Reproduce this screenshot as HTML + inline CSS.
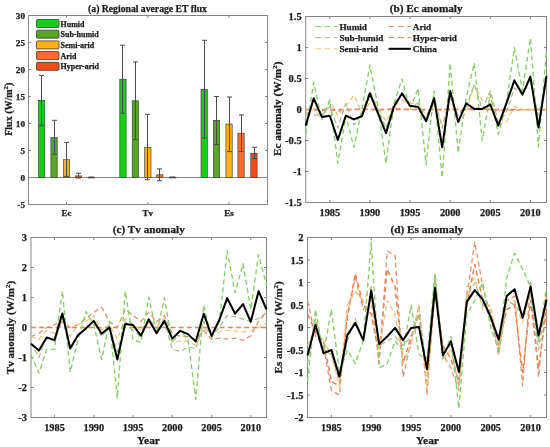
<!DOCTYPE html>
<html><head><meta charset="utf-8"><style>
html,body{margin:0;padding:0;background:#fff;}
body{width:550px;height:447px;overflow:hidden;}
svg{display:block;will-change:transform;}
text{font-family:"Liberation Serif", serif;font-weight:bold;fill:#1a1a1a;stroke:#1a1a1a;stroke-width:0.25px;}
</style></head><body>
<svg width="550" height="447" viewBox="0 0 550 447">
<rect x="0" y="0" width="550" height="447" fill="#fff"/>
<rect x="28.5" y="15.5" width="239.0" height="189.0" fill="none" stroke="#858585" stroke-width="1"/>
<line x1="28.5" y1="204.5" x2="31.0" y2="204.5" stroke="#858585" stroke-width="1"/>
<line x1="267.5" y1="204.5" x2="265.0" y2="204.5" stroke="#858585" stroke-width="1"/>
<text x="25.0" y="208.1" font-size="9.2" text-anchor="end" >-5</text>
<line x1="28.5" y1="177.5" x2="31.0" y2="177.5" stroke="#858585" stroke-width="1"/>
<line x1="267.5" y1="177.5" x2="265.0" y2="177.5" stroke="#858585" stroke-width="1"/>
<text x="25.0" y="181.1" font-size="9.2" text-anchor="end" >0</text>
<line x1="28.5" y1="150.5" x2="31.0" y2="150.5" stroke="#858585" stroke-width="1"/>
<line x1="267.5" y1="150.5" x2="265.0" y2="150.5" stroke="#858585" stroke-width="1"/>
<text x="25.0" y="154.1" font-size="9.2" text-anchor="end" >5</text>
<line x1="28.5" y1="123.5" x2="31.0" y2="123.5" stroke="#858585" stroke-width="1"/>
<line x1="267.5" y1="123.5" x2="265.0" y2="123.5" stroke="#858585" stroke-width="1"/>
<text x="25.0" y="127.1" font-size="9.2" text-anchor="end" >10</text>
<line x1="28.5" y1="96.5" x2="31.0" y2="96.5" stroke="#858585" stroke-width="1"/>
<line x1="267.5" y1="96.5" x2="265.0" y2="96.5" stroke="#858585" stroke-width="1"/>
<text x="25.0" y="100.1" font-size="9.2" text-anchor="end" >15</text>
<line x1="28.5" y1="69.5" x2="31.0" y2="69.5" stroke="#858585" stroke-width="1"/>
<line x1="267.5" y1="69.5" x2="265.0" y2="69.5" stroke="#858585" stroke-width="1"/>
<text x="25.0" y="73.1" font-size="9.2" text-anchor="end" >20</text>
<line x1="28.5" y1="42.5" x2="31.0" y2="42.5" stroke="#858585" stroke-width="1"/>
<line x1="267.5" y1="42.5" x2="265.0" y2="42.5" stroke="#858585" stroke-width="1"/>
<text x="25.0" y="46.1" font-size="9.2" text-anchor="end" >25</text>
<line x1="28.5" y1="15.5" x2="31.0" y2="15.5" stroke="#858585" stroke-width="1"/>
<line x1="267.5" y1="15.5" x2="265.0" y2="15.5" stroke="#858585" stroke-width="1"/>
<text x="25.0" y="19.1" font-size="9.2" text-anchor="end" >30</text>
<line x1="28.5" y1="177.5" x2="267.5" y2="177.5" stroke="#858585" stroke-width="1"/>
<line x1="66.6" y1="204.5" x2="66.6" y2="202.0" stroke="#858585" stroke-width="1"/>
<line x1="66.6" y1="15.5" x2="66.6" y2="18.0" stroke="#858585" stroke-width="1"/>
<text x="66.6" y="216.2" font-size="9" text-anchor="middle" >Ec</text>
<line x1="147.8" y1="204.5" x2="147.8" y2="202.0" stroke="#858585" stroke-width="1"/>
<line x1="147.8" y1="15.5" x2="147.8" y2="18.0" stroke="#858585" stroke-width="1"/>
<text x="147.8" y="216.2" font-size="9" text-anchor="middle" >Tv</text>
<line x1="229.1" y1="204.5" x2="229.1" y2="202.0" stroke="#858585" stroke-width="1"/>
<line x1="229.1" y1="15.5" x2="229.1" y2="18.0" stroke="#858585" stroke-width="1"/>
<text x="229.1" y="216.2" font-size="9" text-anchor="middle" >Es</text>
<rect x="38.5" y="100.3" width="6.3" height="77.2" fill="#18cc18" stroke="#333" stroke-width="0.6"/>
<line x1="41.5" y1="75.4" x2="41.5" y2="125.7" stroke="#4a4a4a" stroke-width="1"/>
<line x1="39.0" y1="75.4" x2="44.0" y2="75.4" stroke="#4a4a4a" stroke-width="1"/>
<line x1="39.0" y1="125.7" x2="44.0" y2="125.7" stroke="#4a4a4a" stroke-width="1"/>
<rect x="50.9" y="137.5" width="6.3" height="40.0" fill="#58a52a" stroke="#333" stroke-width="0.6"/>
<line x1="54.5" y1="120.3" x2="54.5" y2="154.3" stroke="#4a4a4a" stroke-width="1"/>
<line x1="52.0" y1="120.3" x2="57.0" y2="120.3" stroke="#4a4a4a" stroke-width="1"/>
<line x1="52.0" y1="154.3" x2="57.0" y2="154.3" stroke="#4a4a4a" stroke-width="1"/>
<rect x="63.4" y="159.7" width="6.3" height="17.8" fill="#ffaf18" stroke="#333" stroke-width="0.6"/>
<line x1="66.5" y1="142.4" x2="66.5" y2="176.4" stroke="#4a4a4a" stroke-width="1"/>
<line x1="64.0" y1="142.4" x2="69.0" y2="142.4" stroke="#4a4a4a" stroke-width="1"/>
<line x1="64.0" y1="176.4" x2="69.0" y2="176.4" stroke="#4a4a4a" stroke-width="1"/>
<rect x="75.4" y="175.9" width="6.3" height="1.6" fill="#ff6d2d" stroke="#333" stroke-width="0.6"/>
<line x1="78.5" y1="173.2" x2="78.5" y2="178.0" stroke="#4a4a4a" stroke-width="1"/>
<line x1="76.0" y1="173.2" x2="81.0" y2="173.2" stroke="#4a4a4a" stroke-width="1"/>
<line x1="76.0" y1="178.0" x2="81.0" y2="178.0" stroke="#4a4a4a" stroke-width="1"/>
<rect x="88.3" y="177.2" width="6.3" height="0.8" fill="#f24a18" stroke="#333" stroke-width="0.6"/>
<line x1="91.5" y1="177.0" x2="91.5" y2="177.5" stroke="#4a4a4a" stroke-width="1"/>
<line x1="89.0" y1="177.0" x2="94.0" y2="177.0" stroke="#4a4a4a" stroke-width="1"/>
<line x1="89.0" y1="177.5" x2="94.0" y2="177.5" stroke="#4a4a4a" stroke-width="1"/>
<rect x="119.8" y="79.2" width="6.3" height="98.3" fill="#18cc18" stroke="#333" stroke-width="0.6"/>
<line x1="122.5" y1="45.2" x2="122.5" y2="113.2" stroke="#4a4a4a" stroke-width="1"/>
<line x1="120.0" y1="45.2" x2="125.0" y2="45.2" stroke="#4a4a4a" stroke-width="1"/>
<line x1="120.0" y1="113.2" x2="125.0" y2="113.2" stroke="#4a4a4a" stroke-width="1"/>
<rect x="132.2" y="100.8" width="6.3" height="76.7" fill="#58a52a" stroke="#333" stroke-width="0.6"/>
<line x1="135.5" y1="61.9" x2="135.5" y2="139.7" stroke="#4a4a4a" stroke-width="1"/>
<line x1="133.0" y1="61.9" x2="138.0" y2="61.9" stroke="#4a4a4a" stroke-width="1"/>
<line x1="133.0" y1="139.7" x2="138.0" y2="139.7" stroke="#4a4a4a" stroke-width="1"/>
<rect x="144.7" y="147.3" width="6.3" height="30.2" fill="#ffaf18" stroke="#333" stroke-width="0.6"/>
<line x1="147.5" y1="114.3" x2="147.5" y2="179.7" stroke="#4a4a4a" stroke-width="1"/>
<line x1="145.0" y1="114.3" x2="150.0" y2="114.3" stroke="#4a4a4a" stroke-width="1"/>
<line x1="145.0" y1="179.7" x2="150.0" y2="179.7" stroke="#4a4a4a" stroke-width="1"/>
<rect x="156.7" y="174.8" width="6.3" height="2.7" fill="#ff6d2d" stroke="#333" stroke-width="0.6"/>
<line x1="159.5" y1="168.9" x2="159.5" y2="180.7" stroke="#4a4a4a" stroke-width="1"/>
<line x1="157.0" y1="168.9" x2="162.0" y2="168.9" stroke="#4a4a4a" stroke-width="1"/>
<line x1="157.0" y1="180.7" x2="162.0" y2="180.7" stroke="#4a4a4a" stroke-width="1"/>
<rect x="169.6" y="177.2" width="6.3" height="0.8" fill="#f24a18" stroke="#333" stroke-width="0.6"/>
<line x1="172.5" y1="177.0" x2="172.5" y2="177.5" stroke="#4a4a4a" stroke-width="1"/>
<line x1="170.0" y1="177.0" x2="175.0" y2="177.0" stroke="#4a4a4a" stroke-width="1"/>
<line x1="170.0" y1="177.5" x2="175.0" y2="177.5" stroke="#4a4a4a" stroke-width="1"/>
<rect x="201.0" y="89.5" width="6.3" height="88.0" fill="#18cc18" stroke="#333" stroke-width="0.6"/>
<line x1="204.5" y1="40.3" x2="204.5" y2="138.1" stroke="#4a4a4a" stroke-width="1"/>
<line x1="202.0" y1="40.3" x2="207.0" y2="40.3" stroke="#4a4a4a" stroke-width="1"/>
<line x1="202.0" y1="138.1" x2="207.0" y2="138.1" stroke="#4a4a4a" stroke-width="1"/>
<rect x="213.4" y="120.3" width="6.3" height="57.2" fill="#58a52a" stroke="#333" stroke-width="0.6"/>
<line x1="216.5" y1="96.5" x2="216.5" y2="144.6" stroke="#4a4a4a" stroke-width="1"/>
<line x1="214.0" y1="96.5" x2="219.0" y2="96.5" stroke="#4a4a4a" stroke-width="1"/>
<line x1="214.0" y1="144.6" x2="219.0" y2="144.6" stroke="#4a4a4a" stroke-width="1"/>
<rect x="225.9" y="124.0" width="6.3" height="53.5" fill="#ffaf18" stroke="#333" stroke-width="0.6"/>
<line x1="229.5" y1="97.0" x2="229.5" y2="151.6" stroke="#4a4a4a" stroke-width="1"/>
<line x1="227.0" y1="97.0" x2="232.0" y2="97.0" stroke="#4a4a4a" stroke-width="1"/>
<line x1="227.0" y1="151.6" x2="232.0" y2="151.6" stroke="#4a4a4a" stroke-width="1"/>
<rect x="237.9" y="133.2" width="6.3" height="44.3" fill="#ff6d2d" stroke="#333" stroke-width="0.6"/>
<line x1="241.5" y1="114.9" x2="241.5" y2="151.6" stroke="#4a4a4a" stroke-width="1"/>
<line x1="239.0" y1="114.9" x2="244.0" y2="114.9" stroke="#4a4a4a" stroke-width="1"/>
<line x1="239.0" y1="151.6" x2="244.0" y2="151.6" stroke="#4a4a4a" stroke-width="1"/>
<rect x="250.8" y="153.2" width="6.3" height="24.3" fill="#f24a18" stroke="#333" stroke-width="0.6"/>
<line x1="254.5" y1="147.3" x2="254.5" y2="158.6" stroke="#4a4a4a" stroke-width="1"/>
<line x1="252.0" y1="147.3" x2="257.0" y2="147.3" stroke="#4a4a4a" stroke-width="1"/>
<line x1="252.0" y1="158.6" x2="257.0" y2="158.6" stroke="#4a4a4a" stroke-width="1"/>
<rect x="36.5" y="19.5" width="22.5" height="8" rx="1" fill="#18cc18" stroke="#3a3a3a" stroke-width="0.8"/>
<text x="60.5" y="26.5" font-size="8" text-anchor="start" >Humid</text>
<rect x="36.5" y="30.2" width="22.5" height="8" rx="1" fill="#58a52a" stroke="#3a3a3a" stroke-width="0.8"/>
<text x="60.5" y="37.2" font-size="8" text-anchor="start" >Sub-humid</text>
<rect x="36.5" y="40.9" width="22.5" height="8" rx="1" fill="#ffaf18" stroke="#3a3a3a" stroke-width="0.8"/>
<text x="60.5" y="47.9" font-size="8" text-anchor="start" >Semi-arid</text>
<rect x="36.5" y="51.6" width="22.5" height="8" rx="1" fill="#ff6d2d" stroke="#3a3a3a" stroke-width="0.8"/>
<text x="60.5" y="58.6" font-size="8" text-anchor="start" >Arid</text>
<rect x="36.5" y="62.3" width="22.5" height="8" rx="1" fill="#f24a18" stroke="#3a3a3a" stroke-width="0.8"/>
<text x="60.5" y="69.3" font-size="8" text-anchor="start" >Hyper-arid</text>
<text x="147.5" y="11.7" font-size="9.7" text-anchor="middle" >(a) Regional average ET flux</text>
<text transform="translate(12.3,109.2) rotate(-90)" font-size="10" text-anchor="middle">Flux (W/m<tspan font-size="7" dy="-4">2</tspan><tspan dy="4">)</tspan></text>
<rect x="305.7" y="16.5" width="240.8" height="186.0" fill="none" stroke="#858585" stroke-width="1"/>
<line x1="305.7" y1="202.5" x2="308.2" y2="202.5" stroke="#858585" stroke-width="1"/>
<line x1="546.5" y1="202.5" x2="544.0" y2="202.5" stroke="#858585" stroke-width="1"/>
<text x="301.7" y="206.1" font-size="10.5" text-anchor="end" >-1.5</text>
<line x1="305.7" y1="171.5" x2="308.2" y2="171.5" stroke="#858585" stroke-width="1"/>
<line x1="546.5" y1="171.5" x2="544.0" y2="171.5" stroke="#858585" stroke-width="1"/>
<text x="301.7" y="175.1" font-size="10.5" text-anchor="end" >-1</text>
<line x1="305.7" y1="140.5" x2="308.2" y2="140.5" stroke="#858585" stroke-width="1"/>
<line x1="546.5" y1="140.5" x2="544.0" y2="140.5" stroke="#858585" stroke-width="1"/>
<text x="301.7" y="144.1" font-size="10.5" text-anchor="end" >-0.5</text>
<line x1="305.7" y1="109.5" x2="308.2" y2="109.5" stroke="#858585" stroke-width="1"/>
<line x1="546.5" y1="109.5" x2="544.0" y2="109.5" stroke="#858585" stroke-width="1"/>
<text x="301.7" y="113.1" font-size="10.5" text-anchor="end" >0</text>
<line x1="305.7" y1="78.5" x2="308.2" y2="78.5" stroke="#858585" stroke-width="1"/>
<line x1="546.5" y1="78.5" x2="544.0" y2="78.5" stroke="#858585" stroke-width="1"/>
<text x="301.7" y="82.1" font-size="10.5" text-anchor="end" >0.5</text>
<line x1="305.7" y1="47.5" x2="308.2" y2="47.5" stroke="#858585" stroke-width="1"/>
<line x1="546.5" y1="47.5" x2="544.0" y2="47.5" stroke="#858585" stroke-width="1"/>
<text x="301.7" y="51.1" font-size="10.5" text-anchor="end" >1</text>
<line x1="305.7" y1="16.5" x2="308.2" y2="16.5" stroke="#858585" stroke-width="1"/>
<line x1="546.5" y1="16.5" x2="544.0" y2="16.5" stroke="#858585" stroke-width="1"/>
<text x="301.7" y="20.1" font-size="10.5" text-anchor="end" >1.5</text>
<line x1="329.8" y1="202.5" x2="329.8" y2="200.0" stroke="#858585" stroke-width="1"/>
<line x1="329.8" y1="16.5" x2="329.8" y2="19.0" stroke="#858585" stroke-width="1"/>
<text x="329.8" y="216.1" font-size="10.3" text-anchor="middle" >1985</text>
<line x1="369.9" y1="202.5" x2="369.9" y2="200.0" stroke="#858585" stroke-width="1"/>
<line x1="369.9" y1="16.5" x2="369.9" y2="19.0" stroke="#858585" stroke-width="1"/>
<text x="369.9" y="216.1" font-size="10.3" text-anchor="middle" >1990</text>
<line x1="410.0" y1="202.5" x2="410.0" y2="200.0" stroke="#858585" stroke-width="1"/>
<line x1="410.0" y1="16.5" x2="410.0" y2="19.0" stroke="#858585" stroke-width="1"/>
<text x="410.0" y="216.1" font-size="10.3" text-anchor="middle" >1995</text>
<line x1="450.2" y1="202.5" x2="450.2" y2="200.0" stroke="#858585" stroke-width="1"/>
<line x1="450.2" y1="16.5" x2="450.2" y2="19.0" stroke="#858585" stroke-width="1"/>
<text x="450.2" y="216.1" font-size="10.3" text-anchor="middle" >2000</text>
<line x1="490.3" y1="202.5" x2="490.3" y2="200.0" stroke="#858585" stroke-width="1"/>
<line x1="490.3" y1="16.5" x2="490.3" y2="19.0" stroke="#858585" stroke-width="1"/>
<text x="490.3" y="216.1" font-size="10.3" text-anchor="middle" >2005</text>
<line x1="530.4" y1="202.5" x2="530.4" y2="200.0" stroke="#858585" stroke-width="1"/>
<line x1="530.4" y1="16.5" x2="530.4" y2="19.0" stroke="#858585" stroke-width="1"/>
<text x="530.4" y="216.1" font-size="10.3" text-anchor="middle" >2010</text>
<polyline points="305.7,109.5 313.7,109.5 321.8,109.5 329.8,109.5 337.8,109.5 345.8,109.5 353.9,109.5 361.9,109.5 369.9,109.5 377.9,109.5 386.0,109.5 394.0,109.5 402.0,109.5 410.0,109.5 418.1,109.5 426.1,109.5 434.1,109.5 442.2,109.5 450.2,109.5 458.2,109.5 466.2,109.5 474.3,109.5 482.3,109.5 490.3,109.5 498.3,109.5 506.4,109.5 514.4,109.5 522.4,109.5 530.4,109.5 538.5,109.5 546.5,109.5" fill="none" stroke="#e8804f" stroke-width="1.5" stroke-dasharray="5,3.2" stroke-opacity="1.0" stroke-linejoin="round"/>
<polyline points="305.7,109.5 313.7,110.1 321.8,110.7 329.8,109.5 337.8,111.4 345.8,110.1 353.9,109.5 361.9,108.9 369.9,109.5 377.9,110.1 386.0,109.5 394.0,108.3 402.0,108.9 410.0,109.5 418.1,109.5 426.1,110.7 434.1,109.5 442.2,110.1 450.2,108.3 458.2,111.4 466.2,109.5 474.3,107.6 482.3,108.9 490.3,109.5 498.3,110.7 506.4,109.5 514.4,110.7 522.4,109.5 530.4,109.5 538.5,110.7 546.5,109.5" fill="none" stroke="#e2906c" stroke-width="1.25" stroke-dasharray="5,3.2" stroke-opacity="1.0" stroke-linejoin="round"/>
<polyline points="305.7,115.7 313.7,108.3 321.8,118.8 329.8,100.2 337.8,115.7 345.8,106.4 353.9,95.2 361.9,112.6 369.9,103.3 377.9,106.4 386.0,121.9 394.0,106.4 402.0,100.2 410.0,103.3 418.1,103.3 426.1,115.7 434.1,103.3 442.2,125.0 450.2,97.1 458.2,121.9 466.2,112.6 474.3,84.7 482.3,100.2 490.3,97.1 498.3,125.0 506.4,121.9 514.4,106.4 522.4,109.5 530.4,109.5 538.5,109.5 546.5,109.5" fill="none" stroke="#eec47a" stroke-width="1.25" stroke-dasharray="5,3.2" stroke-opacity="1.0" stroke-linejoin="round"/>
<polyline points="305.7,112.6 313.7,115.1 321.8,115.1 329.8,106.4 337.8,128.1 345.8,103.3 353.9,125.0 361.9,112.6 369.9,90.9 377.9,109.5 386.0,128.1 394.0,103.3 402.0,94.0 410.0,106.4 418.1,103.3 426.1,118.8 434.1,97.1 442.2,128.1 450.2,97.1 458.2,115.7 466.2,106.4 474.3,84.7 482.3,109.5 490.3,90.9 498.3,121.9 506.4,112.6 514.4,87.8 522.4,94.0 530.4,81.6 538.5,115.7 546.5,81.6" fill="none" stroke="#a9b98a" stroke-width="1.25" stroke-dasharray="5,3.2" stroke-opacity="1.0" stroke-linejoin="round"/>
<polyline points="305.7,134.3 313.7,82.2 321.8,119.4 329.8,100.2 337.8,163.4 345.8,115.7 353.9,147.3 361.9,109.5 369.9,64.9 377.9,106.4 386.0,163.4 394.0,103.3 402.0,79.1 410.0,109.5 418.1,88.4 426.1,164.7 434.1,90.9 442.2,177.7 450.2,63.0 458.2,152.9 466.2,97.1 474.3,63.0 482.3,140.5 490.3,94.0 498.3,134.3 506.4,103.3 514.4,47.5 522.4,90.9 530.4,38.2 538.5,146.7 546.5,50.6" fill="none" stroke="#86cf68" stroke-width="1.35" stroke-dasharray="5,3.2" stroke-opacity="1.0" stroke-linejoin="round"/>
<polyline points="305.7,125.6 313.7,98.3 321.8,116.9 329.8,115.7 337.8,139.9 345.8,115.7 353.9,119.4 361.9,116.3 369.9,93.4 377.9,113.2 386.0,133.1 394.0,106.4 402.0,93.4 410.0,105.8 418.1,107.0 426.1,121.3 434.1,98.3 442.2,147.3 450.2,90.9 458.2,121.9 466.2,103.3 474.3,108.9 482.3,108.9 490.3,104.5 498.3,125.6 506.4,103.3 514.4,80.4 522.4,94.6 530.4,76.6 538.5,127.5 546.5,76.0" fill="none" stroke="#000" stroke-width="2.0" stroke-opacity="1.0" stroke-linejoin="round"/>
<line x1="315.2" y1="26.6" x2="337.6" y2="26.6" stroke="#86cf68" stroke-width="1.0" stroke-dasharray="5.8,3.6"/>
<text x="339.4" y="29.8" font-size="9.2" text-anchor="start" >Humid</text>
<line x1="315.2" y1="37.6" x2="337.6" y2="37.6" stroke="#a9b98a" stroke-width="1.0" stroke-dasharray="5.8,3.6"/>
<text x="339.4" y="40.8" font-size="9.2" text-anchor="start" >Sub-humid</text>
<line x1="315.2" y1="48.8" x2="337.6" y2="48.8" stroke="#eec47a" stroke-width="1.0" stroke-dasharray="5.8,3.6"/>
<text x="339.4" y="52.0" font-size="9.2" text-anchor="start" >Semi-arid</text>
<line x1="388.6" y1="26.6" x2="411.0" y2="26.6" stroke="#e2906c" stroke-width="1.0" stroke-dasharray="5.8,3.6"/>
<text x="412.8" y="29.8" font-size="9.2" text-anchor="start" >Arid</text>
<line x1="388.6" y1="37.6" x2="411.0" y2="37.6" stroke="#e8804f" stroke-width="1.0" stroke-dasharray="5.8,3.6"/>
<text x="412.8" y="40.8" font-size="9.2" text-anchor="start" >Hyper-arid</text>
<line x1="388.6" y1="48.8" x2="411.0" y2="48.8" stroke="#000" stroke-width="2.0"/>
<text x="412.8" y="52.0" font-size="9.2" text-anchor="start" >China</text>
<text x="426.2" y="12.0" font-size="11.2" text-anchor="middle" >(b) Ec anomaly</text>
<text transform="translate(280.5,108.8) rotate(-90)" font-size="11.3" text-anchor="middle">Ec anomaly (W/m<tspan font-size="7" dy="-4">2</tspan><tspan dy="4">)</tspan></text>
<rect x="31.0" y="237.5" width="235.5" height="180.0" fill="none" stroke="#858585" stroke-width="1"/>
<line x1="31.0" y1="417.5" x2="33.5" y2="417.5" stroke="#858585" stroke-width="1"/>
<line x1="266.5" y1="417.5" x2="264.0" y2="417.5" stroke="#858585" stroke-width="1"/>
<text x="27.0" y="421.1" font-size="10.5" text-anchor="end" >-3</text>
<line x1="31.0" y1="387.5" x2="33.5" y2="387.5" stroke="#858585" stroke-width="1"/>
<line x1="266.5" y1="387.5" x2="264.0" y2="387.5" stroke="#858585" stroke-width="1"/>
<text x="27.0" y="391.1" font-size="10.5" text-anchor="end" >-2</text>
<line x1="31.0" y1="357.5" x2="33.5" y2="357.5" stroke="#858585" stroke-width="1"/>
<line x1="266.5" y1="357.5" x2="264.0" y2="357.5" stroke="#858585" stroke-width="1"/>
<text x="27.0" y="361.1" font-size="10.5" text-anchor="end" >-1</text>
<line x1="31.0" y1="327.5" x2="33.5" y2="327.5" stroke="#858585" stroke-width="1"/>
<line x1="266.5" y1="327.5" x2="264.0" y2="327.5" stroke="#858585" stroke-width="1"/>
<text x="27.0" y="331.1" font-size="10.5" text-anchor="end" >0</text>
<line x1="31.0" y1="297.5" x2="33.5" y2="297.5" stroke="#858585" stroke-width="1"/>
<line x1="266.5" y1="297.5" x2="264.0" y2="297.5" stroke="#858585" stroke-width="1"/>
<text x="27.0" y="301.1" font-size="10.5" text-anchor="end" >1</text>
<line x1="31.0" y1="267.5" x2="33.5" y2="267.5" stroke="#858585" stroke-width="1"/>
<line x1="266.5" y1="267.5" x2="264.0" y2="267.5" stroke="#858585" stroke-width="1"/>
<text x="27.0" y="271.1" font-size="10.5" text-anchor="end" >2</text>
<line x1="31.0" y1="237.5" x2="33.5" y2="237.5" stroke="#858585" stroke-width="1"/>
<line x1="266.5" y1="237.5" x2="264.0" y2="237.5" stroke="#858585" stroke-width="1"/>
<text x="27.0" y="241.1" font-size="10.5" text-anchor="end" >3</text>
<line x1="54.5" y1="417.5" x2="54.5" y2="415.0" stroke="#858585" stroke-width="1"/>
<line x1="54.5" y1="237.5" x2="54.5" y2="240.0" stroke="#858585" stroke-width="1"/>
<text x="54.5" y="431.1" font-size="10.3" text-anchor="middle" >1985</text>
<line x1="93.8" y1="417.5" x2="93.8" y2="415.0" stroke="#858585" stroke-width="1"/>
<line x1="93.8" y1="237.5" x2="93.8" y2="240.0" stroke="#858585" stroke-width="1"/>
<text x="93.8" y="431.1" font-size="10.3" text-anchor="middle" >1990</text>
<line x1="133.1" y1="417.5" x2="133.1" y2="415.0" stroke="#858585" stroke-width="1"/>
<line x1="133.1" y1="237.5" x2="133.1" y2="240.0" stroke="#858585" stroke-width="1"/>
<text x="133.1" y="431.1" font-size="10.3" text-anchor="middle" >1995</text>
<line x1="172.3" y1="417.5" x2="172.3" y2="415.0" stroke="#858585" stroke-width="1"/>
<line x1="172.3" y1="237.5" x2="172.3" y2="240.0" stroke="#858585" stroke-width="1"/>
<text x="172.3" y="431.1" font-size="10.3" text-anchor="middle" >2000</text>
<line x1="211.6" y1="417.5" x2="211.6" y2="415.0" stroke="#858585" stroke-width="1"/>
<line x1="211.6" y1="237.5" x2="211.6" y2="240.0" stroke="#858585" stroke-width="1"/>
<text x="211.6" y="431.1" font-size="10.3" text-anchor="middle" >2005</text>
<line x1="250.8" y1="417.5" x2="250.8" y2="415.0" stroke="#858585" stroke-width="1"/>
<line x1="250.8" y1="237.5" x2="250.8" y2="240.0" stroke="#858585" stroke-width="1"/>
<text x="250.8" y="431.1" font-size="10.3" text-anchor="middle" >2010</text>
<polyline points="31.0,327.5 38.9,327.5 46.7,327.5 54.5,327.5 62.4,327.5 70.2,327.5 78.1,327.5 86.0,327.5 93.8,327.5 101.6,327.5 109.5,327.5 117.3,327.5 125.2,327.5 133.1,327.5 140.9,327.5 148.8,327.5 156.6,327.5 164.4,327.5 172.3,327.5 180.2,327.5 188.0,327.5 195.8,327.5 203.7,327.5 211.6,327.5 219.4,327.5 227.2,327.5 235.1,327.5 243.0,327.5 250.8,327.5 258.6,327.5 266.5,327.5" fill="none" stroke="#e8804f" stroke-width="1.5" stroke-dasharray="5,3.2" stroke-opacity="1.0" stroke-linejoin="round"/>
<polyline points="31.0,336.5 38.9,333.5 46.7,327.5 54.5,324.5 62.4,321.5 70.2,327.5 78.1,324.5 86.0,318.5 93.8,312.5 101.6,307.1 109.5,321.5 117.3,327.5 125.2,309.5 133.1,315.5 140.9,321.5 148.8,312.5 156.6,321.5 164.4,315.5 172.3,333.5 180.2,336.5 188.0,336.5 195.8,339.5 203.7,330.5 211.6,339.5 219.4,338.0 227.2,339.2 235.1,338.0 243.0,340.4 250.8,335.9 258.6,321.2 266.5,312.2" fill="none" stroke="#e2906c" stroke-width="1.25" stroke-dasharray="5,3.2" stroke-opacity="1.0" stroke-linejoin="round"/>
<polyline points="31.0,336.5 38.9,339.5 46.7,330.5 54.5,333.5 62.4,321.5 70.2,336.5 78.1,324.5 86.0,321.5 93.8,315.5 101.6,330.5 109.5,324.5 117.3,339.5 125.2,318.5 133.1,324.5 140.9,330.5 148.8,318.5 156.6,327.5 164.4,318.5 172.3,342.5 180.2,341.0 188.0,341.0 195.8,345.5 203.7,327.5 211.6,335.0 219.4,332.0 227.2,330.5 235.1,331.1 243.0,332.0 250.8,330.5 258.6,327.5 266.5,323.0" fill="none" stroke="#eec47a" stroke-width="1.25" stroke-dasharray="5,3.2" stroke-opacity="1.0" stroke-linejoin="round"/>
<polyline points="31.0,342.5 38.9,357.5 46.7,336.5 54.5,342.5 62.4,318.5 70.2,345.5 78.1,336.5 86.0,327.5 93.8,321.5 101.6,336.5 109.5,327.5 117.3,351.5 125.2,321.5 133.1,330.5 140.9,336.5 148.8,321.5 156.6,333.5 164.4,321.5 172.3,349.1 180.2,351.5 188.0,347.0 195.8,348.5 203.7,321.5 211.6,336.5 219.4,327.5 227.2,315.5 235.1,316.7 243.0,319.1 250.8,321.2 258.6,318.5 266.5,312.5" fill="none" stroke="#a9b98a" stroke-width="1.25" stroke-dasharray="5,3.2" stroke-opacity="1.0" stroke-linejoin="round"/>
<polyline points="31.0,354.5 38.9,373.1 46.7,349.4 54.5,349.4 62.4,290.9 70.2,372.2 78.1,339.5 86.0,311.6 93.8,324.5 101.6,359.6 109.5,321.5 117.3,398.0 125.2,291.2 133.1,339.5 140.9,342.5 148.8,297.2 156.6,333.5 164.4,297.8 172.3,342.5 180.2,330.5 188.0,339.5 195.8,399.5 203.7,305.0 211.6,338.6 219.4,321.5 227.2,250.7 235.1,292.7 243.0,263.6 250.8,309.5 258.6,254.6 266.5,284.9" fill="none" stroke="#86cf68" stroke-width="1.35" stroke-dasharray="5,3.2" stroke-opacity="1.0" stroke-linejoin="round"/>
<polyline points="31.0,343.7 38.9,350.6 46.7,337.4 54.5,340.1 62.4,313.4 70.2,348.5 78.1,335.0 86.0,328.4 93.8,320.9 101.6,333.8 109.5,327.2 117.3,359.6 125.2,323.9 133.1,325.1 140.9,335.6 148.8,319.4 156.6,333.2 164.4,320.9 172.3,338.6 180.2,330.8 188.0,334.1 195.8,341.6 203.7,313.7 211.6,335.9 219.4,319.7 227.2,298.1 235.1,313.7 243.0,304.1 250.8,321.8 258.6,291.2 266.5,309.5" fill="none" stroke="#000" stroke-width="2.0" stroke-opacity="1.0" stroke-linejoin="round"/>
<text x="148.8" y="232.5" font-size="11.2" text-anchor="middle" >(c) Tv anomaly</text>
<text x="148.5" y="444.2" font-size="11.4" text-anchor="middle" >Year</text>
<text transform="translate(13.9,327.5) rotate(-90)" font-size="11.1" text-anchor="middle">Tv anomaly (W/m<tspan font-size="7" dy="-4">2</tspan><tspan dy="4">)</tspan></text>
<rect x="307.5" y="237.5" width="239.0" height="180.0" fill="none" stroke="#858585" stroke-width="1"/>
<line x1="307.5" y1="417.5" x2="310.0" y2="417.5" stroke="#858585" stroke-width="1"/>
<line x1="546.5" y1="417.5" x2="544.0" y2="417.5" stroke="#858585" stroke-width="1"/>
<text x="303.5" y="421.1" font-size="10.5" text-anchor="end" >-2</text>
<line x1="307.5" y1="395.0" x2="310.0" y2="395.0" stroke="#858585" stroke-width="1"/>
<line x1="546.5" y1="395.0" x2="544.0" y2="395.0" stroke="#858585" stroke-width="1"/>
<text x="303.5" y="398.6" font-size="10.5" text-anchor="end" >-1.5</text>
<line x1="307.5" y1="372.5" x2="310.0" y2="372.5" stroke="#858585" stroke-width="1"/>
<line x1="546.5" y1="372.5" x2="544.0" y2="372.5" stroke="#858585" stroke-width="1"/>
<text x="303.5" y="376.1" font-size="10.5" text-anchor="end" >-1</text>
<line x1="307.5" y1="350.0" x2="310.0" y2="350.0" stroke="#858585" stroke-width="1"/>
<line x1="546.5" y1="350.0" x2="544.0" y2="350.0" stroke="#858585" stroke-width="1"/>
<text x="303.5" y="353.6" font-size="10.5" text-anchor="end" >-0.5</text>
<line x1="307.5" y1="327.5" x2="310.0" y2="327.5" stroke="#858585" stroke-width="1"/>
<line x1="546.5" y1="327.5" x2="544.0" y2="327.5" stroke="#858585" stroke-width="1"/>
<text x="303.5" y="331.1" font-size="10.5" text-anchor="end" >0</text>
<line x1="307.5" y1="305.0" x2="310.0" y2="305.0" stroke="#858585" stroke-width="1"/>
<line x1="546.5" y1="305.0" x2="544.0" y2="305.0" stroke="#858585" stroke-width="1"/>
<text x="303.5" y="308.6" font-size="10.5" text-anchor="end" >0.5</text>
<line x1="307.5" y1="282.5" x2="310.0" y2="282.5" stroke="#858585" stroke-width="1"/>
<line x1="546.5" y1="282.5" x2="544.0" y2="282.5" stroke="#858585" stroke-width="1"/>
<text x="303.5" y="286.1" font-size="10.5" text-anchor="end" >1</text>
<line x1="307.5" y1="260.0" x2="310.0" y2="260.0" stroke="#858585" stroke-width="1"/>
<line x1="546.5" y1="260.0" x2="544.0" y2="260.0" stroke="#858585" stroke-width="1"/>
<text x="303.5" y="263.6" font-size="10.5" text-anchor="end" >1.5</text>
<line x1="307.5" y1="237.5" x2="310.0" y2="237.5" stroke="#858585" stroke-width="1"/>
<line x1="546.5" y1="237.5" x2="544.0" y2="237.5" stroke="#858585" stroke-width="1"/>
<text x="303.5" y="241.1" font-size="10.5" text-anchor="end" >2</text>
<line x1="331.4" y1="417.5" x2="331.4" y2="415.0" stroke="#858585" stroke-width="1"/>
<line x1="331.4" y1="237.5" x2="331.4" y2="240.0" stroke="#858585" stroke-width="1"/>
<text x="331.4" y="431.1" font-size="10.3" text-anchor="middle" >1985</text>
<line x1="371.2" y1="417.5" x2="371.2" y2="415.0" stroke="#858585" stroke-width="1"/>
<line x1="371.2" y1="237.5" x2="371.2" y2="240.0" stroke="#858585" stroke-width="1"/>
<text x="371.2" y="431.1" font-size="10.3" text-anchor="middle" >1990</text>
<line x1="411.1" y1="417.5" x2="411.1" y2="415.0" stroke="#858585" stroke-width="1"/>
<line x1="411.1" y1="237.5" x2="411.1" y2="240.0" stroke="#858585" stroke-width="1"/>
<text x="411.1" y="431.1" font-size="10.3" text-anchor="middle" >1995</text>
<line x1="450.9" y1="417.5" x2="450.9" y2="415.0" stroke="#858585" stroke-width="1"/>
<line x1="450.9" y1="237.5" x2="450.9" y2="240.0" stroke="#858585" stroke-width="1"/>
<text x="450.9" y="431.1" font-size="10.3" text-anchor="middle" >2000</text>
<line x1="490.7" y1="417.5" x2="490.7" y2="415.0" stroke="#858585" stroke-width="1"/>
<line x1="490.7" y1="237.5" x2="490.7" y2="240.0" stroke="#858585" stroke-width="1"/>
<text x="490.7" y="431.1" font-size="10.3" text-anchor="middle" >2005</text>
<line x1="530.6" y1="417.5" x2="530.6" y2="415.0" stroke="#858585" stroke-width="1"/>
<line x1="530.6" y1="237.5" x2="530.6" y2="240.0" stroke="#858585" stroke-width="1"/>
<text x="530.6" y="431.1" font-size="10.3" text-anchor="middle" >2010</text>
<polyline points="307.5,314.0 315.5,332.0 323.4,341.0 331.4,381.5 339.4,386.0 347.3,318.5 355.3,273.5 363.3,305.0 371.2,314.0 379.2,354.5 387.2,269.0 395.1,287.0 403.1,363.5 411.1,336.5 419.0,314.0 427.0,386.0 435.0,291.5 442.9,345.5 450.9,359.0 458.9,381.5 466.8,305.0 474.8,264.5 482.8,300.5 490.7,318.5 498.7,345.5 506.7,309.5 514.6,305.0 522.6,372.5 530.6,300.5 538.5,368.0 546.5,309.5" fill="none" stroke="#e8804f" stroke-width="1.5" stroke-dasharray="5,3.2" stroke-opacity="1.0" stroke-linejoin="round"/>
<polyline points="307.5,300.5 315.5,336.5 323.4,345.5 331.4,390.5 339.4,395.0 347.3,314.0 355.3,278.0 363.3,309.5 371.2,300.5 379.2,363.5 387.2,251.0 395.1,255.5 403.1,377.0 411.1,341.0 419.0,305.0 427.0,395.0 435.0,282.5 442.9,354.5 450.9,368.0 458.9,390.5 466.8,296.0 474.8,242.0 482.8,287.0 490.7,314.0 498.7,354.5 506.7,300.5 514.6,296.0 522.6,386.0 530.6,282.5 538.5,377.0 546.5,296.0" fill="none" stroke="#e2906c" stroke-width="1.25" stroke-dasharray="5,3.2" stroke-opacity="1.0" stroke-linejoin="round"/>
<polyline points="307.5,345.5 315.5,327.5 323.4,341.0 331.4,354.5 339.4,386.0 347.3,305.0 355.3,291.5 363.3,300.5 371.2,287.0 379.2,350.0 387.2,300.5 395.1,314.0 403.1,363.5 411.1,345.5 419.0,305.0 427.0,390.5 435.0,273.5 442.9,359.0 450.9,350.0 458.9,386.0 466.8,287.0 474.8,278.0 482.8,309.5 490.7,305.0 498.7,350.0 506.7,300.5 514.6,300.5 522.6,323.0 530.6,291.5 538.5,341.0 546.5,305.0" fill="none" stroke="#eec47a" stroke-width="1.25" stroke-dasharray="5,3.2" stroke-opacity="1.0" stroke-linejoin="round"/>
<polyline points="307.5,363.5 315.5,318.5 323.4,350.0 331.4,354.5 339.4,381.5 347.3,341.0 355.3,318.5 363.3,341.0 371.2,287.0 379.2,345.5 387.2,341.0 395.1,336.5 403.1,345.5 411.1,336.5 419.0,314.0 427.0,368.0 435.0,278.0 442.9,350.0 450.9,345.5 458.9,386.0 466.8,296.0 474.8,282.5 482.8,305.0 490.7,314.0 498.7,354.5 506.7,300.5 514.6,305.0 522.6,314.0 530.6,296.0 538.5,350.0 546.5,300.5" fill="none" stroke="#a9b98a" stroke-width="1.25" stroke-dasharray="5,3.2" stroke-opacity="1.0" stroke-linejoin="round"/>
<polyline points="307.5,381.5 315.5,309.5 323.4,354.5 331.4,309.5 339.4,372.5 347.3,350.0 355.3,363.5 363.3,341.0 371.2,242.0 379.2,368.0 387.2,363.5 395.1,341.0 403.1,350.0 411.1,305.0 419.0,354.5 427.0,359.0 435.0,273.5 442.9,359.0 450.9,336.5 458.9,408.5 466.8,314.0 474.8,300.5 482.8,282.5 490.7,327.5 498.7,350.0 506.7,278.0 514.6,253.2 522.6,269.0 530.6,287.0 538.5,341.0 546.5,287.0" fill="none" stroke="#86cf68" stroke-width="1.35" stroke-dasharray="5,3.2" stroke-opacity="1.0" stroke-linejoin="round"/>
<polyline points="307.5,355.4 315.5,324.8 323.4,353.1 331.4,350.0 339.4,376.6 347.3,335.1 355.3,323.0 363.3,340.1 371.2,290.6 379.2,344.1 387.2,336.5 395.1,327.9 403.1,340.1 411.1,327.9 419.0,327.1 427.0,369.4 435.0,287.9 442.9,355.4 450.9,341.4 458.9,372.1 466.8,301.9 474.8,290.1 482.8,299.6 490.7,317.1 498.7,339.6 506.7,296.0 514.6,289.2 522.6,318.1 530.6,286.5 538.5,335.6 546.5,299.6" fill="none" stroke="#000" stroke-width="2.0" stroke-opacity="1.0" stroke-linejoin="round"/>
<text x="426.8" y="232.5" font-size="11.3" text-anchor="middle" >(d) Es anomaly</text>
<text x="427.5" y="444.2" font-size="11.4" text-anchor="middle" >Year</text>
<text transform="translate(281.8,327.3) rotate(-90)" font-size="11.1" text-anchor="middle">Es anomaly (W/m<tspan font-size="7" dy="-4">2</tspan><tspan dy="4">)</tspan></text>
</svg>
</body></html>
